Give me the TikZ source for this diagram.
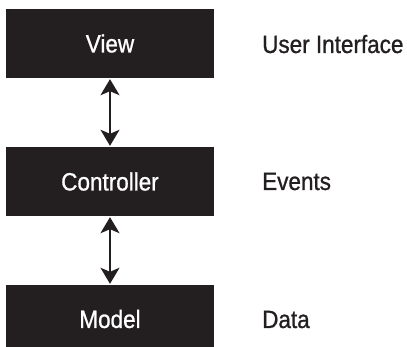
\documentclass[tikz,border=0pt]{standalone}
\usepackage{fontspec}
\setmainfont[FakeStretch=0.9,FakeBold=0.9]{Liberation Sans}
\usetikzlibrary{arrows.meta}
\definecolor{ink}{HTML}{231F20}
\begin{document}
\begin{tikzpicture}[x=1pt,y=1pt,
  layer/.style={fill=ink, draw=none, text=white, minimum width=208pt,
    minimum height=69pt, inner sep=0pt, font=\fontsize{25}{30}\selectfont},
  role/.style={anchor=base west, text=ink, inner sep=0pt,
    font=\fontsize{25}{30}\selectfont},
  link/.style={ink, line width=1.8pt,
    {Stealth[length=16pt,width=19pt,inset=4pt]}-{Stealth[length=16pt,width=19pt,inset=4pt]},
    shorten <=1pt, shorten >=1pt}]
\useasboundingbox (0,0) rectangle (407,347);
\begin{scope}
\clip (0,0) rectangle (407,347);
% the three MVC layers
\node[layer] (view) at (110,303.5) {View};
\node[layer] (ctrl) at (110,165.5) {Controller};
\node[layer, minimum height=68pt] (model) at (110,28) {Model};
\end{scope}
% two-way links between layers
\draw[link] (view.south) -- (ctrl.north);
\draw[link] (ctrl.south) -- (model.north);
% roles of each layer
\node[role] (ui) at (262,294) {User Interface};
\node[role] (ev) at (262,157) {Events};
\node[role] (da) at (262,19) {Data};
\end{tikzpicture}
\end{document}
